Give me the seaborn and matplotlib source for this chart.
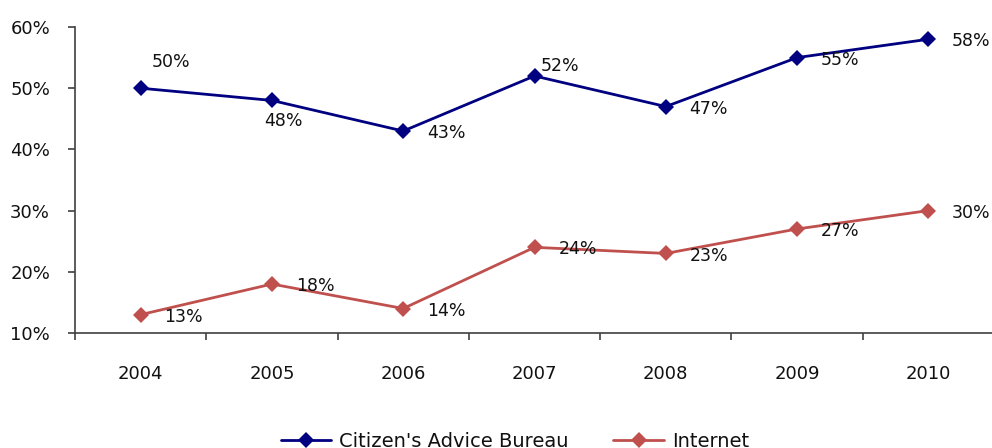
import matplotlib
matplotlib.use("Agg")
import matplotlib.pyplot as plt
from matplotlib.ticker import FixedLocator, PercentFormatter
import seaborn as sns
import pandas as pd

# Data
years = ["2004", "2005", "2006", "2007", "2008", "2009", "2010"]
cab = [50, 48, 43, 52, 47, 55, 58]
internet = [13, 18, 14, 24, 23, 27, 30]
series_names = ["Citizen's Advice Bureau", "Internet"]
colors = ["#000080", "#C0504D"]

# label offsets in points (most labels sit to the right of the point)
default_offset = (31, -1.5)
cab_offsets = {0: (22, 19), 1: (8, -15), 3: (18, 7)}

df = pd.DataFrame({
    "year": years * 2,
    "x": list(range(len(years))) * 2,
    "value": cab + internet,
    "series": [series_names[0]] * len(years) + [series_names[1]] * len(years),
})

sns.set_style("white")
plt.rcParams["font.family"] = ["DejaVu Sans"]

fig = plt.figure(figsize=(9.92, 4.48), dpi=100)
ax = fig.add_axes([75 / 992, 115 / 448, 919 / 992, 306 / 448])

sns.lineplot(data=df, x="x", y="value", hue="series", palette=colors,
             style="series", markers=["D", "D"], dashes=False,
             markersize=8, linewidth=2, markeredgewidth=0, ax=ax)

# data labels
for i, v in enumerate(cab):
    ax.annotate(f"{v}%", (i, v), xytext=cab_offsets.get(i, default_offset),
                textcoords="offset points", ha="center", va="center", fontsize=12.5, color="#111111")
for i, v in enumerate(internet):
    ax.annotate(f"{v}%", (i, v), xytext=default_offset,
                textcoords="offset points", ha="center", va="center", fontsize=12.5, color="#111111")

ax.set_xlim(-0.5, len(years) - 0.5)
ax.set_ylim(10, 60)
ax.set_yticks(range(10, 61, 10))
ax.yaxis.set_major_formatter(PercentFormatter(decimals=0))
ax.set_xticks(range(len(years)))
ax.set_xticklabels(years)
ax.xaxis.set_minor_locator(FixedLocator([i - 0.5 for i in range(len(years) + 1)]))
ax.tick_params(axis="x", which="major", length=0, pad=23, labelsize=13, labelcolor="#111111")
ax.tick_params(axis="x", which="minor", length=5, width=1.2, color="#404040", direction="out", bottom=True)
ax.tick_params(axis="y", which="major", length=5, width=1.2, color="#404040", direction="out",
               left=True, pad=13, labelsize=13, labelcolor="#111111")
ax.set_xlabel("")
ax.set_ylabel("")

for side in ["top", "right"]:
    ax.spines[side].set_visible(False)
for side in ["left", "bottom"]:
    ax.spines[side].set_color("#404040")
    ax.spines[side].set_linewidth(1.2)

handles, labels = ax.get_legend_handles_labels()
ax.get_legend().remove()
fig.legend(handles, labels, loc="center", bbox_to_anchor=(0.519, 0.014), ncol=2,
           frameon=False, fontsize=14, handlelength=2.6, handletextpad=0.4,
           columnspacing=2.3, borderpad=0, labelcolor="#111111")

fig.savefig("out.png", dpi=100)
